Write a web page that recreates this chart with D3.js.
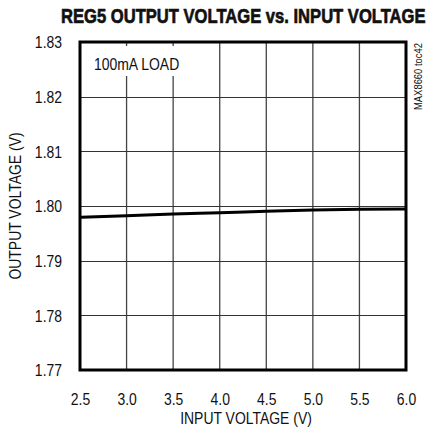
<!DOCTYPE html>
<html>
<head>
<meta charset="utf-8">
<script src="https://cdn.jsdelivr.net/npm/d3@7"></script>
<style>
  html, body { margin: 0; padding: 0; background: #fff; }
  svg { display: block; }
  text { font-family: "Liberation Sans", Arial, sans-serif; fill: #111; }
</style>
</head>
<body>
<svg id="chart" width="430" height="432"></svg>
<script>
// REG5 output voltage measured across the input-voltage range (100mA load)
const inputVoltage  = [2.5, 3.0, 3.5, 4.0, 4.5, 5.0, 5.5, 6.0];
const outputVoltage = [1.79793, 1.79822, 1.79854, 1.79877, 1.79903, 1.79927, 1.79939, 1.79945];

const xTicks = [2.5, 3.0, 3.5, 4.0, 4.5, 5.0, 5.5, 6.0];
const yTicks = [1.77, 1.78, 1.79, 1.80, 1.81, 1.82, 1.83];

const titleText  = "REG5 OUTPUT VOLTAGE vs. INPUT VOLTAGE";
const xLabelText = "INPUT VOLTAGE (V)";
const yLabelText = "OUTPUT VOLTAGE (V)";
const noteText   = "100mA LOAD";
const idText     = "MAX8660 toc42";

const plot = { left: 80, right: 406, top: 42, bottom: 370 };
const fontSize = 17;

const svg = d3.select("#chart");

const x = d3.scaleLinear().domain([2.5, 6.0]).range([plot.left, plot.right]);
const y = d3.scaleLinear().domain([1.77, 1.83]).range([plot.bottom, plot.top]);

// condensed look: squeeze text horizontally to a fixed advance
const squeeze = 0.82;
function condense(sel) {
  sel.each(function () {
    const w = this.getComputedTextLength();
    d3.select(this)
      .attr("textLength", w * squeeze)
      .attr("lengthAdjust", "spacingAndGlyphs");
  });
}

// grid
const grid = svg.append("g");
grid.selectAll("line.v")
  .data(xTicks.slice(1, -1))
  .join("line")
  .attr("x1", d => x(d)).attr("x2", d => x(d))
  .attr("y1", plot.top).attr("y2", plot.bottom)
  .attr("stroke", "#444").attr("stroke-width", 1.3);
grid.selectAll("line.h")
  .data(yTicks.slice(1, -1))
  .join("line")
  .attr("x1", plot.left).attr("x2", plot.right)
  .attr("y1", d => Math.round(y(d)) + 0.5).attr("y2", d => Math.round(y(d)) + 0.5)
  .attr("stroke", "#333").attr("stroke-width", 1.2);

// load annotation with a white backing that interrupts the grid
grid.append("rect")
  .attr("x", 88).attr("y", 46).attr("width", 96).attr("height", 30)
  .attr("fill", "#fff");
svg.append("text")
  .attr("x", 94).attr("y", 70)
  .attr("font-size", fontSize)
  .text(noteText)
  .call(condense);

// data line
const line = d3.line().x((d, i) => x(inputVoltage[i])).y(d => y(d)).curve(d3.curveMonotoneX);
svg.append("path")
  .datum(outputVoltage)
  .attr("d", line)
  .attr("fill", "none")
  .attr("stroke", "#000")
  .attr("stroke-width", 3);

// frame
svg.append("rect")
  .attr("x", plot.left).attr("y", plot.top)
  .attr("width", plot.right - plot.left).attr("height", plot.bottom - plot.top)
  .attr("fill", "none").attr("stroke", "#000").attr("stroke-width", 3);

// x-axis labels
const xAxis = d3.axisBottom(x).tickValues(xTicks).tickFormat(d3.format(".1f")).tickSize(0).tickPadding(0);
const gx = svg.append("g").attr("transform", `translate(0,${plot.bottom})`).call(xAxis);
gx.select(".domain").remove();
gx.selectAll("text")
  .attr("y", 35).attr("dy", null)
  .attr("font-size", fontSize)
  .attr("font-family", null)
  .attr("fill", "#111")
  .call(condense);

// y-axis labels
const yAxis = d3.axisLeft(y).tickValues(yTicks).tickFormat(d3.format(".2f")).tickSize(0).tickPadding(0);
const gy = svg.append("g").attr("transform", `translate(${plot.left},0)`).call(yAxis);
gy.select(".domain").remove();
gy.selectAll("text")
  .attr("x", -18).attr("dy", "0.35em")
  .attr("font-size", fontSize)
  .attr("font-family", null)
  .attr("fill", "#111")
  .call(condense);

// chart title, squeezed to the width of the header band, heavy weight
const title = svg.append("text")
  .attr("font-size", 21).attr("font-weight", "bold")
  .attr("stroke", "#111").attr("stroke-width", 0.7)
  .text(titleText);
const titleW = title.node().getComputedTextLength();
title.attr("transform", `translate(61,23) scale(${365 / titleW},1)`);

svg.append("text")
  .attr("x", (plot.left + plot.right) / 2 + 3).attr("y", 424)
  .attr("text-anchor", "middle")
  .attr("font-size", fontSize)
  .text(xLabelText)
  .call(condense);

svg.append("text")
  .attr("transform", `translate(21,${(plot.top + plot.bottom) / 2}) rotate(-90)`)
  .attr("text-anchor", "middle")
  .attr("font-size", fontSize)
  .text(yLabelText)
  .call(condense);

svg.append("text")
  .attr("transform", `translate(422,110) rotate(-90)`)
  .attr("font-size", 10)
  .attr("textLength", 67).attr("lengthAdjust", "spacingAndGlyphs")
  .attr("fill", "#333")
  .text(idText);
</script>
</body>
</html>
